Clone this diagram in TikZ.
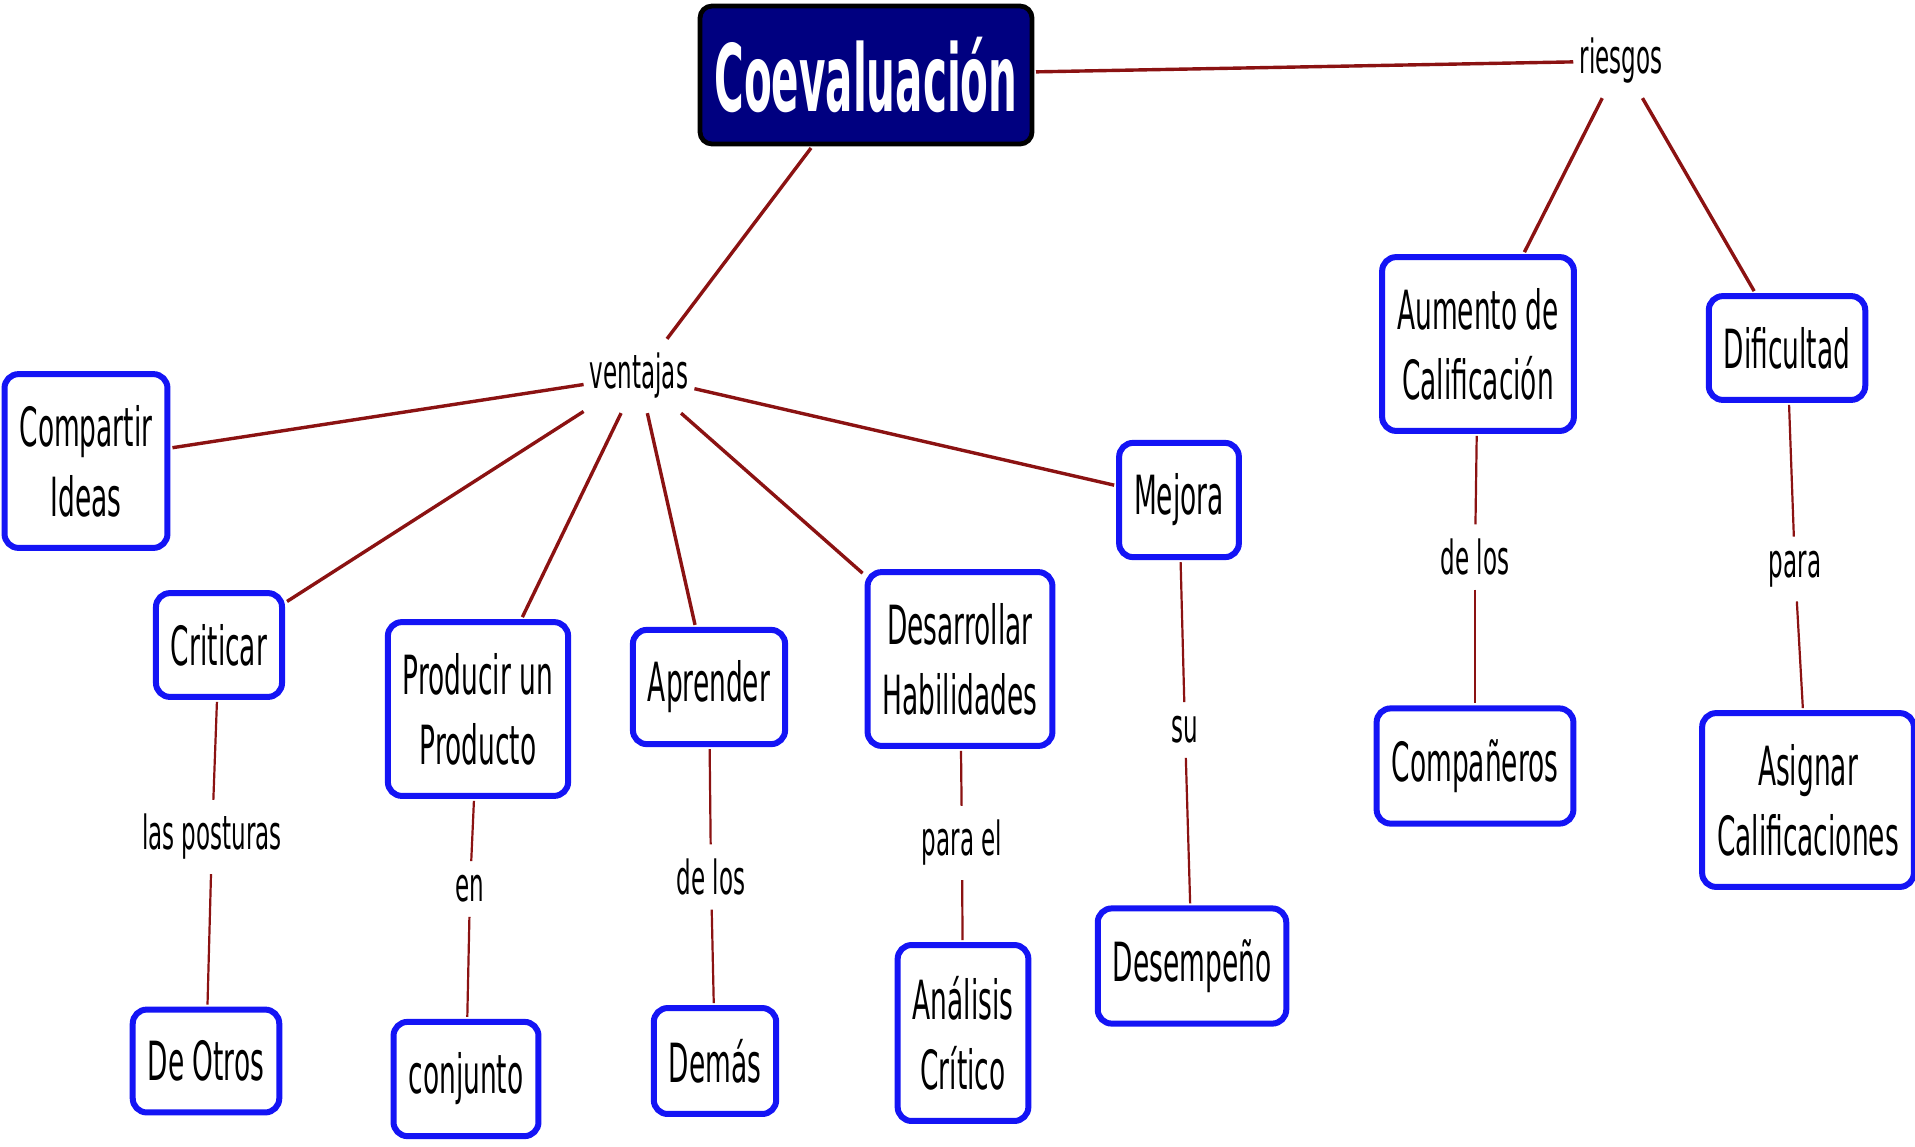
\documentclass[tikz,border=0pt]{standalone}
\usepackage{fontspec}
\setmainfont[FakeStretch=0.49]{DejaVu Sans}
\newfontfamily\titlefont[FakeStretch=0.435]{DejaVu Sans}
\definecolor{linkred}{RGB}{139,18,18}
\definecolor{boxblue}{RGB}{20,20,245}
\definecolor{titlenavy}{RGB}{0,0,128}

\begin{document}
\begin{tikzpicture}[x=0.5pt, y=-0.5pt,
  concept/.style={draw=boxblue, line width=3pt, rounded corners=7pt, fill=white, align=center,
    inner xsep=7.5pt, inner ysep=15.5pt, outer sep=2.5pt, font=\fontsize{27}{35}\selectfont},
  linkword/.style={inner xsep=3pt, inner ysep=7pt, font=\fontsize{23.5}{28}\selectfont},
  mainlink/.style={draw=linkred, line width=1.7pt},
  link/.style={draw=linkred, line width=1.1pt}]
  \useasboundingbox (0,0) rectangle (1915,1146);
  % main concept
  \node [draw=black, line width=2.4pt, fill=titlenavy, text=white, rounded corners=6pt,
    minimum width=166pt, minimum height=69pt, outer sep=2pt,
    font=\titlefont\bfseries\fontsize{46.5}{50}\selectfont] (coev) at (866,75) {Coevaluación};
  \node [linkword] (ventajas) at (639,376) {ventajas};
  \node [linkword] (riesgos) at (1621,61) {riesgos};
  % ventajas
  \node [concept] (compartir) at (86,461) {Compartir\\Ideas};
  \node [concept] (criticar) at (219,645) {Criticar};
  \node [concept] (producir) at (478,709) {Producir un\\Producto};
  \node [concept] (aprender) at (709,687) {Aprender};
  \node [concept] (desarrollar) at (960,659) {Desarrollar\\Habilidades};
  \node [concept] (mejora) at (1179,500) {Mejora};
  \node [linkword] (posturas) at (212,837) {las posturas};
  \node [linkword] (en) at (470,889) {en};
  \node [linkword] (delos) at (711,877) {de los};
  \node [linkword] (parael) at (962,843) {para el};
  \node [linkword] (su) at (1185,730) {su};
  \node [concept] (otros) at (206,1061) {De Otros};
  \node [concept] (conjunto) at (466,1079) {conjunto};
  \node [concept] (demas) at (715,1061) {Demás};
  \node [concept] (analisis) at (963,1033) {Análisis\\Crítico};
  \node [concept] (desempeno) at (1192,966) {Desempeño};
  % riesgos
  \node [concept] (aumento) at (1478,344) {Aumento de\\Calificación};
  \node [concept] (dificultad) at (1787,348) {Dificultad};
  \node [linkword] (delosb) at (1475,557) {de los};
  \node [linkword] (para) at (1795,569) {para};
  \node [concept] (companeros) at (1475,766) {Compañeros};
  \node [concept] (asignar) at (1808,800) {Asignar\\Calificaciones};
  % links
  \draw [mainlink] (coev) -- (ventajas);
  \draw [mainlink] (coev) -- (riesgos);
  \draw [mainlink] (ventajas) -- (compartir);
  \draw [mainlink] (ventajas) -- (criticar);
  \draw [mainlink] (ventajas) -- (producir);
  \draw [mainlink] (ventajas) -- (aprender);
  \draw [mainlink] (ventajas) -- (desarrollar);
  \draw [mainlink] (ventajas) -- (mejora);
  \draw [mainlink] (riesgos) -- (aumento);
  \draw [mainlink] (riesgos) -- (dificultad);
  \draw [link] (criticar) -- (posturas);
  \draw [link] (posturas) -- (otros);
  \draw [link] (producir) -- (en);
  \draw [link] (en) -- (conjunto);
  \draw [link] (aprender) -- (delos);
  \draw [link] (delos) -- (demas);
  \draw [link] (desarrollar) -- (parael);
  \draw [link] (parael) -- (analisis);
  \draw [link] (mejora) -- (su);
  \draw [link] (su) -- (desempeno);
  \draw [link] (aumento) -- (delosb);
  \draw [link] (delosb) -- (companeros);
  \draw [link] (dificultad) -- (para);
  \draw [link] (para) -- (asignar);
\end{tikzpicture}
\end{document}
